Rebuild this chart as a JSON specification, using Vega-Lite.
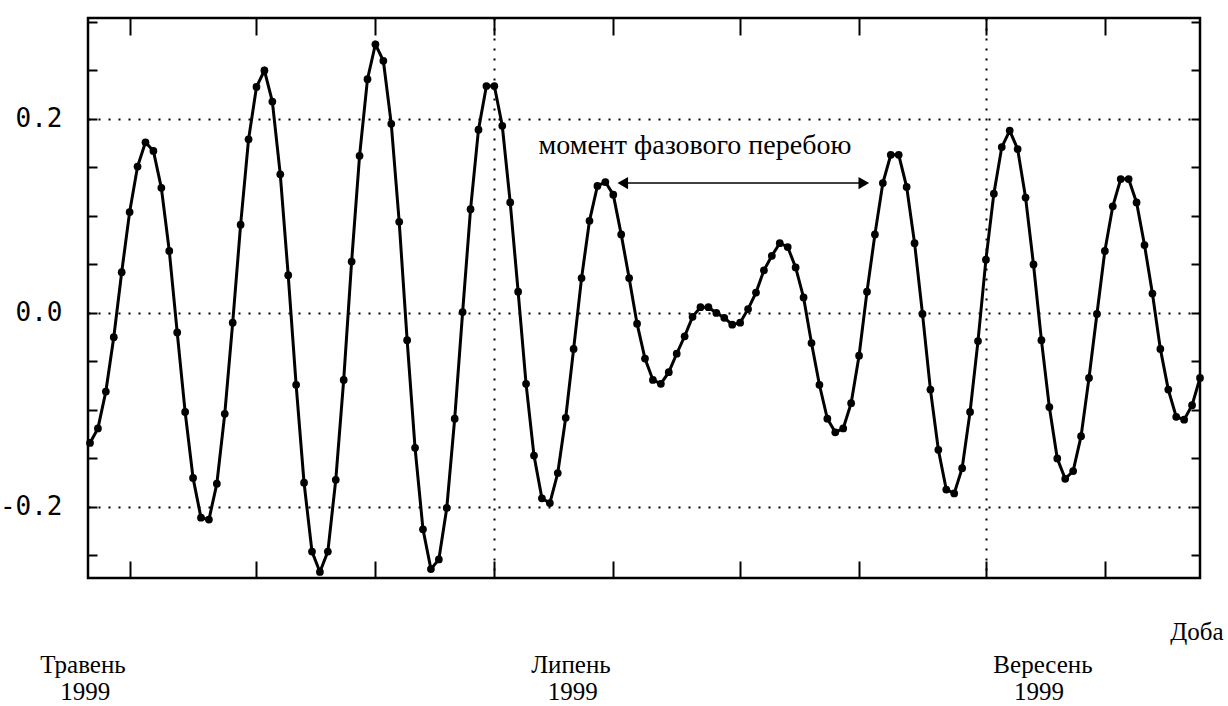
{
  "$schema": "https://vega.github.io/schema/vega-lite/v6.json",
  "width": 1112,
  "height": 560,
  "autosize": {"type": "none"},
  "padding": {"left": 88, "top": 18, "right": 28, "bottom": 128},
  "background": "white",
  "config": {
    "view": {"stroke": "black", "strokeWidth": 2.5},
    "axis": {"domain": false, "tickColor": "black", "tickWidth": 2, "labelColor": "black", "gridColor": "black", "title": null}
  },
  "datasets": {
    "series": [
      {"day":131,"value":-0.134},{"day":132,"value":-0.119},{"day":133,"value":-0.081},{"day":134,"value":-0.025},{"day":135,"value":0.042},
      {"day":136,"value":0.104},{"day":137,"value":0.151},{"day":138,"value":0.176},{"day":139,"value":0.167},{"day":140,"value":0.129},
      {"day":141,"value":0.064},{"day":142,"value":-0.020},{"day":143,"value":-0.102},{"day":144,"value":-0.170},{"day":145,"value":-0.211},
      {"day":146,"value":-0.213},{"day":147,"value":-0.176},{"day":148,"value":-0.104},{"day":149,"value":-0.010},{"day":150,"value":0.091},
      {"day":151,"value":0.179},{"day":152,"value":0.233},{"day":153,"value":0.250},{"day":154,"value":0.218},{"day":155,"value":0.143},
      {"day":156,"value":0.039},{"day":157,"value":-0.074},{"day":158,"value":-0.175},{"day":159,"value":-0.246},{"day":160,"value":-0.267},
      {"day":161,"value":-0.246},{"day":162,"value":-0.172},{"day":163,"value":-0.069},{"day":164,"value":0.053},{"day":165,"value":0.162},
      {"day":166,"value":0.241},{"day":167,"value":0.277},{"day":168,"value":0.260},{"day":169,"value":0.195},{"day":170,"value":0.094},
      {"day":171,"value":-0.028},{"day":172,"value":-0.139},{"day":173,"value":-0.223},{"day":174,"value":-0.264},{"day":175,"value":-0.254},
      {"day":176,"value":-0.201},{"day":177,"value":-0.109},{"day":178,"value":0.001},{"day":179,"value":0.107},{"day":180,"value":0.189},
      {"day":181,"value":0.234},{"day":182,"value":0.234},{"day":183,"value":0.193},{"day":184,"value":0.114},{"day":185,"value":0.022},
      {"day":186,"value":-0.073},{"day":187,"value":-0.147},{"day":188,"value":-0.191},{"day":189,"value":-0.196},{"day":190,"value":-0.165},
      {"day":191,"value":-0.108},{"day":192,"value":-0.037},{"day":193,"value":0.036},{"day":194,"value":0.095},{"day":195,"value":0.131},
      {"day":196,"value":0.135},{"day":197,"value":0.122},{"day":198,"value":0.081},{"day":199,"value":0.036},{"day":200,"value":-0.011},
      {"day":201,"value":-0.047},{"day":202,"value":-0.069},{"day":203,"value":-0.073},{"day":204,"value":-0.061},{"day":205,"value":-0.042},
      {"day":206,"value":-0.024},{"day":207,"value":-0.004},{"day":208,"value":0.006},{"day":209,"value":0.006},{"day":210,"value":0.000},
      {"day":211,"value":-0.005},{"day":212,"value":-0.012},{"day":213,"value":-0.010},{"day":214,"value":0.004},{"day":215,"value":0.021},
      {"day":216,"value":0.044},{"day":217,"value":0.059},{"day":218,"value":0.072},{"day":219,"value":0.068},{"day":220,"value":0.047},
      {"day":221,"value":0.016},{"day":222,"value":-0.031},{"day":223,"value":-0.074},{"day":224,"value":-0.109},{"day":225,"value":-0.123},
      {"day":226,"value":-0.119},{"day":227,"value":-0.093},{"day":228,"value":-0.044},{"day":229,"value":0.022},{"day":230,"value":0.081},
      {"day":231,"value":0.134},{"day":232,"value":0.163},{"day":233,"value":0.163},{"day":234,"value":0.130},{"day":235,"value":0.072},
      {"day":236,"value":-0.001},{"day":237,"value":-0.079},{"day":238,"value":-0.141},{"day":239,"value":-0.182},{"day":240,"value":-0.186},
      {"day":241,"value":-0.160},{"day":242,"value":-0.102},{"day":243,"value":-0.029},{"day":244,"value":0.055},{"day":245,"value":0.123},
      {"day":246,"value":0.171},{"day":247,"value":0.188},{"day":248,"value":0.169},{"day":249,"value":0.119},{"day":250,"value":0.050},
      {"day":251,"value":-0.028},{"day":252,"value":-0.097},{"day":253,"value":-0.150},{"day":254,"value":-0.171},{"day":255,"value":-0.163},
      {"day":256,"value":-0.127},{"day":257,"value":-0.067},{"day":258,"value":-0.001},{"day":259,"value":0.064},{"day":260,"value":0.110},
      {"day":261,"value":0.138},{"day":262,"value":0.138},{"day":263,"value":0.114},{"day":264,"value":0.070},{"day":265,"value":0.020},
      {"day":266,"value":-0.037},{"day":267,"value":-0.079},{"day":268,"value":-0.107},{"day":269,"value":-0.110},{"day":270,"value":-0.095},
      {"day":271,"value":-0.067}
    ],
    "note": [
      {"label":"момент фазового перебою","day":207.3,"value":0.172}
    ],
    "labels": [
      {"label":"Доба","day":270.6,"value":-0.329},
      {"label":"Травень","day":130.12,"value":-0.363},
      {"label":"1999","day":130.4,"value":-0.391},
      {"label":"Липень","day":191.66,"value":-0.363},
      {"label":"1999","day":191.9,"value":-0.391},
      {"label":"Вересень","day":251.2,"value":-0.363},
      {"label":"1999","day":250.7,"value":-0.391}
    ],
    "arrow": [
      {"start":198.2,"end":228.6,"value":0.134}
    ],
    "heads": [
      {"day":198.2,"value":0.134,"dir":"left"},
      {"day":228.6,"value":0.134,"dir":"right"}
    ]
  },
  "resolve": {"axis": {"x": "independent", "y": "independent"}},
  "layer": [
    {
      "data": {"name": "series"},
      "mark": {"type": "line", "color": "black", "strokeWidth": 3},
      "encoding": {
        "x": {"field": "day", "type": "quantitative",
              "scale": {"domain": [130.75, 271], "nice": false, "zero": false},
              "axis": {"orient": "bottom", "values": [136,152,167,182,197,213,228,244,259], "tickSize": -17, "labels": false, "grid": false}},
        "y": {"field": "value", "type": "quantitative",
              "scale": {"domain": [-0.2732, 0.3041], "nice": false, "zero": false},
              "axis": {"orient": "left", "values": [-0.2, 0, 0.2], "ticks": false, "labelPadding": 26,
                       "labelExpr": "datum.value < 0 ? '-' + format(-datum.value, '.1f') : format(datum.value, '.1f')",
                       "labelFont": "DejaVu Sans Mono", "labelFontSize": 26,
                       "grid": true, "gridDash": [2, 8], "gridWidth": 2}}
      }
    },
    {
      "data": {"name": "series"},
      "mark": {"type": "point", "filled": true, "shape": "circle", "size": 60, "color": "black", "opacity": 1},
      "encoding": {
        "x": {"field": "day", "type": "quantitative",
              "scale": {"domain": [130.75, 271], "nice": false, "zero": false},
              "axis": {"orient": "top", "values": [136,152,167,182,197,213,228,244,259], "tickSize": -17, "labels": false, "grid": false}},
        "y": {"field": "value", "type": "quantitative",
              "axis": {"orient": "left", "values": [-0.25,-0.2,-0.15,-0.1,-0.05,0,0.05,0.1,0.15,0.2,0.25,0.3], "tickSize": -9, "labels": false, "grid": false}}
      }
    },
    {
      "data": {"name": "labels"},
      "mark": {"type": "text", "font": "Liberation Serif", "fontSize": 25, "color": "black", "align": "center", "baseline": "middle"},
      "encoding": {
        "x": {"field": "day", "type": "quantitative",
              "axis": {"orient": "bottom", "values": [182, 244], "ticks": false, "labels": false, "grid": true, "gridDash": [2, 8], "gridWidth": 2}},
        "y": {"field": "value", "type": "quantitative",
              "axis": {"orient": "right", "values": [-0.25,-0.2,-0.15,-0.1,-0.05,0,0.05,0.1,0.15,0.2,0.25,0.3], "tickSize": -9, "labels": false, "grid": false}},
        "text": {"field": "label", "type": "nominal"}
      }
    },
    {
      "data": {"name": "note"},
      "mark": {"type": "text", "font": "Liberation Serif", "fontSize": 28, "color": "black", "align": "center", "baseline": "middle"},
      "encoding": {
        "x": {"field": "day", "type": "quantitative", "axis": null},
        "y": {"field": "value", "type": "quantitative", "axis": null},
        "text": {"field": "label", "type": "nominal"}
      }
    },
    {
      "data": {"name": "arrow"},
      "mark": {"type": "rule", "color": "black", "strokeWidth": 1.5},
      "encoding": {
        "x": {"field": "start", "type": "quantitative", "axis": null},
        "x2": {"field": "end"},
        "y": {"field": "value", "type": "quantitative", "axis": null}
      }
    },
    {
      "data": {"name": "heads"},
      "mark": {"type": "point", "filled": true, "size": 150, "color": "black", "opacity": 1},
      "encoding": {
        "x": {"field": "day", "type": "quantitative", "axis": null},
        "y": {"field": "value", "type": "quantitative", "axis": null},
        "shape": {"field": "dir", "type": "nominal",
                  "scale": {"domain": ["left", "right"], "range": ["triangle-left", "triangle-right"]},
                  "legend": null}
      }
    }
  ]
}
